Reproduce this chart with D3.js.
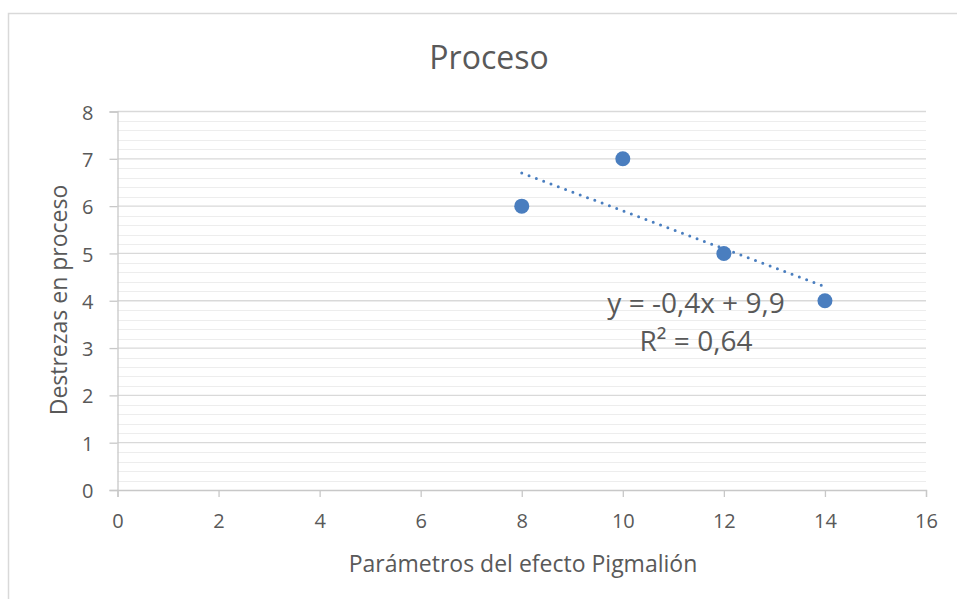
<!DOCTYPE html>
<html>
<head>
<meta charset="utf-8">
<script src="https://cdn.jsdelivr.net/npm/d3@7"></script>
<style>
  html, body { margin: 0; padding: 0; background: #fff; }
  svg { display: block; }
  text { font-family: "Open Sans", "DejaVu Sans", sans-serif; fill: #595959; }
</style>
</head>
<body>
<svg id="chart" width="957" height="599"></svg>
<script>
// ---- data ----
const xValues = [8, 10, 12, 14];
const yValues = [6, 7, 5, 4];
const xTicks = [0, 2, 4, 6, 8, 10, 12, 14, 16];
const yTicks = [0, 1, 2, 3, 4, 5, 6, 7, 8];
const titleText = "Proceso";
const xTitle = "Parámetros del efecto Pigmalión";
const yTitle = "Destrezas en proceso";
const eqLine1 = "y = -0,4x + 9,9";
const eqLine2 = "R² = 0,64";

const svg = d3.select("#chart");
const W = 957, H = 599;

// chart border
svg.append("rect")
  .attr("x", 8.5).attr("y", 13.5)
  .attr("width", W + 10).attr("height", H + 10)
  .attr("fill", "#fff").attr("stroke", "#d9d9d9").attr("stroke-width", 1.5);

const x = d3.scaleLinear().domain([0, 16]).range([117.5, 926]);
const y = d3.scaleLinear().domain([0, 8]).range([490, 111.5]);

// minor gridlines
const minor = d3.range(0, 8.0001, 0.2).filter(v => Math.abs(v - Math.round(v)) > 1e-6);
svg.append("g").selectAll("line").data(minor).join("line")
  .attr("x1", x(0)).attr("x2", x(16))
  .attr("y1", d => Math.round(y(d)) + 0.5).attr("y2", d => Math.round(y(d)) + 0.5)
  .attr("stroke", "#ededed").attr("stroke-width", 1);

// major gridlines
svg.append("g").selectAll("line").data(yTicks.filter(d => d > 0)).join("line")
  .attr("x1", x(0)).attr("x2", x(16))
  .attr("y1", d => y(d)).attr("y2", d => y(d))
  .attr("stroke", "#d9d9d9").attr("stroke-width", 1.3);

// y axis
const yAxis = svg.append("g").attr("transform", `translate(${x(0)},0)`)
  .call(d3.axisLeft(y).tickValues(yTicks).tickSize(8).tickPadding(16).tickFormat(d3.format("d")));
yAxis.select(".domain").attr("stroke", "#c8c8c8").attr("stroke-width", 1.3);
yAxis.selectAll(".tick line").attr("stroke", "#c8c8c8").attr("stroke-width", 1.3);
yAxis.selectAll(".tick text").attr("font-size", 20).attr("fill", "#595959")
  .attr("font-family", "'Open Sans', sans-serif").attr("dy", "0.38em");

// x axis
const xAxis = svg.append("g").attr("transform", `translate(0,${y(0)})`)
  .call(d3.axisBottom(x).tickValues(xTicks).tickSize(7).tickPadding(17).tickFormat(d3.format("d")));
xAxis.select(".domain").attr("stroke", "#c8c8c8").attr("stroke-width", 1.3);
xAxis.selectAll(".tick line").attr("stroke", "#c8c8c8").attr("stroke-width", 1.3);
xAxis.selectAll(".tick text").attr("font-size", 20).attr("fill", "#595959")
  .attr("font-family", "'Open Sans', sans-serif").attr("dy", "0.71em");

// trendline (linear regression of the data)
const n = xValues.length;
const mx = d3.mean(xValues), my = d3.mean(yValues);
let sxy = 0, sxx = 0;
for (let i = 0; i < n; i++) { sxy += (xValues[i] - mx) * (yValues[i] - my); sxx += (xValues[i] - mx) ** 2; }
const slope = sxy / sxx, intercept = my - slope * mx;
const xMin = d3.min(xValues), xMax = d3.max(xValues);
svg.append("line")
  .attr("x1", x(xMin)).attr("y1", y(slope * xMin + intercept))
  .attr("x2", x(xMax)).attr("y2", y(slope * xMax + intercept))
  .attr("stroke", "#4a7ebf").attr("stroke-width", 3)
  .attr("stroke-linecap", "round").attr("stroke-dasharray", "0 7.8");

// points
svg.append("g").selectAll("circle").data(xValues.map((d, i) => [d, yValues[i]])).join("circle")
  .attr("cx", d => x(d[0])).attr("cy", d => y(d[1]))
  .attr("r", 7.5).attr("fill", "#4a7ebf");

// equation
svg.append("text").attr("x", 696).attr("y", 313).attr("text-anchor", "middle")
  .attr("font-size", 28).text(eqLine1);
svg.append("text").attr("x", 696).attr("y", 351).attr("text-anchor", "middle")
  .attr("font-size", 28).text(eqLine2);

// title
svg.append("text").attr("x", 489).attr("y", 69).attr("text-anchor", "middle")
  .attr("font-size", 32).text(titleText);

// axis titles
svg.append("text").attr("x", 523).attr("y", 572).attr("text-anchor", "middle")
  .attr("font-size", 23).text(xTitle);
svg.append("text").attr("transform", "translate(67,300) rotate(-90)").attr("text-anchor", "middle")
  .attr("font-size", 23).text(yTitle);
</script>
</body>
</html>
